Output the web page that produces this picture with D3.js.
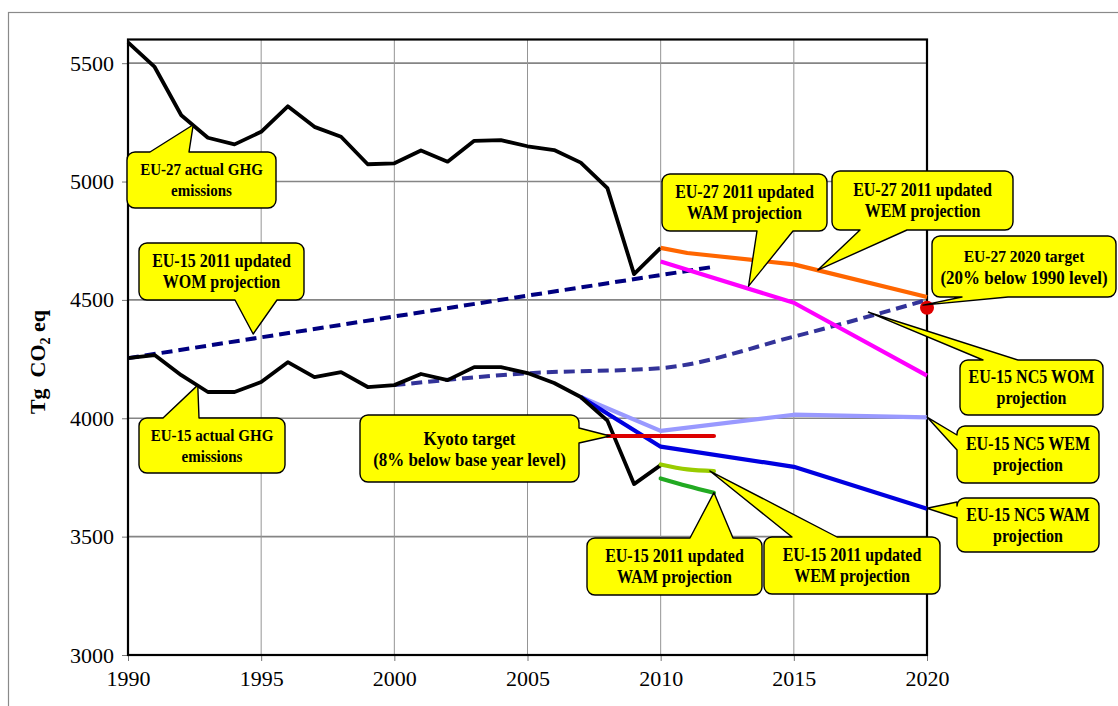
<!DOCTYPE html>
<html><head><meta charset="utf-8">
<script src="https://cdn.jsdelivr.net/npm/d3@7"></script>
<style>
html,body{margin:0;padding:0;background:#fff;}
svg{display:block;}
svg text{font-family:"Liberation Serif","Times New Roman",serif !important;}
</style></head>
<body>
<svg id="chart" width="1118" height="706"></svg>
<script>
// ---------- data ----------
const actualYears = [1990,1991,1992,1993,1994,1995,1996,1997,1998,1999,2000,2001,2002,2003,2004,2005,2006,2007,2008,2009,2010];
const eu27Actual = [5588,5484,5280,5185,5157,5210,5318,5231,5189,5073,5077,5131,5084,5172,5175,5149,5133,5080,4972,4609,4720];
const eu15Actual = [4254,4267,4182,4111,4111,4153,4237,4174,4195,4132,4140,4187,4161,4216,4216,4191,4149,4090,3990,3722,3802];

const eu15WomYears = [1990,1995,2000,2005,2010,2012];
const eu15Wom2011 = [4254,4342,4430,4518,4605,4640];

const nc5WomYears = [2000,2005,2010,2015,2020];
const eu15Nc5Wom = [4140,4190,4212,4345,4500];

const eu27WemYears = [2010,2011,2015,2020];
const eu27Wem2011 = [4720,4698,4650,4512];

const eu27WamYears = [2010,2015,2020];
const eu27Wam2011 = [4662,4488,4180];

const nc5Years = [2007,2010,2015,2020];
const eu15Nc5Wem = [4090,3947,4015,4004];
const eu15Nc5Wam = [4090,3880,3795,3618];

const kyotoYears = [2008,2012];
const kyotoTarget = [3925,3925];

const eu15UpdYears = [2010,2011,2012];
const eu15Wem2011 = [3805,3784,3777];
const eu15Wam2011 = [3746,3714,3685];

const targetYear = [2020];
const eu27Target2020 = [4467];

const xTicks = [1990,1995,2000,2005,2010,2015,2020];
const yTicks = [3000,3500,4000,4500,5000,5500];
const yTitle = ["Tg  CO", "2", " eq"];

// ---------- layout ----------
const FONT = "'Liberation Serif','Times New Roman',serif";
const svg = d3.select("#chart");
const x = d3.scaleLinear().domain([1990,2020]).range([128,927]);
const y = d3.scaleLinear().domain([3000,5600]).range([655,39.5]);

// outer frame
svg.append("rect").attr("x",8.5).attr("y",12.5).attr("width",1130).attr("height",720)
  .attr("fill","none").attr("stroke","#8a8a8a").attr("stroke-width",1.2);

// gridlines
svg.append("g").selectAll("line").data(yTicks.filter(v=>v>3000)).join("line")
  .attr("x1",x(1990)).attr("x2",x(2020)).attr("y1",d=>y(d)).attr("y2",d=>y(d))
  .attr("stroke","#858585").attr("stroke-width",1.6);
svg.append("g").selectAll("line").data(xTicks.filter(v=>v>1990&&v<2020)).join("line")
  .attr("y1",y(3000)).attr("y2",y(5600)).attr("x1",d=>x(d)).attr("x2",d=>x(d))
  .attr("stroke","#959595").attr("stroke-width",1);

// axes
const yAxis = d3.axisLeft(y).tickValues(yTicks).tickSize(6).tickPadding(8).tickFormat(d3.format("d"));
const gy = svg.append("g").attr("transform",`translate(${x(1990)},0)`).call(yAxis)
  .attr("font-family",FONT).attr("font-size",22);
gy.select(".domain").remove();
gy.selectAll(".tick line").attr("stroke","#777");
gy.selectAll(".tick text").style("font-size","22px").style("font-family",FONT).attr("fill","#000");

const xAxis = d3.axisBottom(x).tickValues(xTicks).tickSize(6).tickPadding(9).tickFormat(d3.format("d"));
const gx = svg.append("g").attr("transform",`translate(0,${y(3000)})`).call(xAxis)
  .attr("font-family",FONT).attr("font-size",22);
gx.select(".domain").remove();
gx.selectAll(".tick line").attr("stroke","#777");
gx.selectAll(".tick text").style("font-size","22px").style("font-family",FONT).attr("fill","#000");

// plot frame
svg.append("rect").attr("x",x(1990)).attr("y",y(5600)).attr("width",x(2020)-x(1990)).attr("height",y(3000)-y(5600))
  .attr("fill","none").attr("stroke","#000").attr("stroke-width",2.2);

// y title
const yt = svg.append("text").attr("transform","translate(45,362) rotate(-90)")
  .attr("text-anchor","middle").style("font-size","22px").attr("font-weight","bold")
  .style("white-space","pre");
yt.append("tspan").text(yTitle[0]);
yt.append("tspan").text(yTitle[1]).style("font-size","14px").attr("dy",5);
yt.append("tspan").text(yTitle[2]).attr("dy",-5);

// ---------- series ----------
function draw(xs, vs, color, width, opts={}) {
  const line = d3.line().x((d,i)=>x(xs[i])).y(d=>y(d)).curve(opts.curve||d3.curveLinear);
  svg.append("path").datum(vs).attr("d",line).attr("fill","none")
    .attr("stroke",color).attr("stroke-width",width)
    .attr("stroke-linejoin","round").attr("stroke-linecap",opts.cap||"butt")
    .attr("stroke-dasharray",opts.dash||null);
}
draw(nc5WomYears, eu15Nc5Wom, "#333399", 4, {dash:"11,6", curve:d3.curveMonotoneX});
draw(eu15WomYears, eu15Wom2011, "#000080", 4, {dash:"11,6"});
draw(nc5Years, eu15Nc5Wem, "#9999FF", 4.2);
draw(nc5Years, eu15Nc5Wam, "#0000E0", 4.2);
draw(actualYears, eu27Actual, "#000", 3.8);
draw(actualYears, eu15Actual, "#000", 3.8);
draw(kyotoYears, kyotoTarget, "#DD0000", 4.2, {cap:"round"});
draw(eu27WemYears, eu27Wem2011, "#FF6600", 4.2);
draw(eu27WamYears, eu27Wam2011, "#FF00FF", 4.2);
draw(eu15UpdYears, eu15Wem2011, "#99CC00", 4.2, {curve:d3.curveMonotoneX, cap:"round"});
draw(eu15UpdYears, eu15Wam2011, "#22AA22", 4.2, {curve:d3.curveMonotoneX, cap:"round"});

svg.append("g").selectAll("circle").data(eu27Target2020).join("circle")
  .attr("cx",(d,i)=>x(targetYear[i])).attr("cy",d=>y(d)).attr("r",7).attr("fill","#E00000");

// ---------- callouts ----------
// box: [left, top, right, bottom] px; side of wedge; wedge base a..b along side; tip in data units
const callouts = [
  {lines:["EU-27 actual GHG","emissions"], fs:[15.5,15.5], box:[127,152,276,208], side:"top", base:[150,189], tip:[1992.45,5240]},
  {lines:["EU-15 2011 updated","WOM projection"], fs:[16.5,16.5], box:[139,243,304,300], side:"bottom", base:[235,277], tip:[1994.7,4356]},
  {lines:["EU-15 actual GHG","emissions"], fs:[15.5,15.5], box:[139,418,285,473], side:"top", base:[163,199], tip:[1992.62,4140]},
  {lines:["Kyoto target","(8% below base year level)"], fs:[17.5,17.5], box:[360,415,579,482], side:"right", base:[428,443], tip:[2008.1,3925]},
  {lines:["EU-27 2011 updated","WAM projection"], fs:[16.5,16.5], box:[662,174,827,231], side:"bottom", base:[757,793], tip:[2013.3,4558]},
  {lines:["EU-27 2011 updated","WEM projection"], fs:[16.5,16.5], box:[832,171,1013,230], side:"bottom", base:[860,907], tip:[2015.9,4626]},
  {lines:["EU-27 2020 target","(20% below 1990 level)"], fs:[16,17.5], box:[932,236,1116,297], side:"bottom", base:[962,1008], tip:[2019.85,4478]},
  {lines:["EU-15 NC5 WOM","projection"], fs:[16.5,16.5], box:[960,360,1103,415], side:"top", base:[983,1018], tip:[2017.8,4448]},
  {lines:["EU-15 NC5 WEM","projection"], fs:[16.5,16.5], box:[957,426,1099,483], side:"left", base:[435,450], tip:[2020,4005]},
  {lines:["EU-15 NC5 WAM","projection"], fs:[16.5,16.5], box:[957,498,1099,552], side:"left", base:[502,518], tip:[2020,3620]},
  {lines:["EU-15 2011 updated","WAM projection"], fs:[16.5,16.5], box:[587,538,762,595], side:"top", base:[690,733], tip:[2012,3686]},
  {lines:["EU-15 2011 updated","WEM projection"], fs:[16.5,16.5], box:[764,537,940,594], side:"top", base:[792,837], tip:[2011.85,3777]}
];

function calloutPath(c){
  const [x0,y0,x1,y1] = c.box, r = 8, [a,b] = c.base;
  const tx = x(c.tip[0]), ty = y(c.tip[1]);
  const p = d3.path();
  p.moveTo(x0+r,y0);
  if(c.side==="top"){ p.lineTo(a,y0); p.lineTo(tx,ty); p.lineTo(b,y0); }
  p.lineTo(x1-r,y0); p.arcTo(x1,y0,x1,y0+r,r);
  if(c.side==="right"){ p.lineTo(x1,a); p.lineTo(tx,ty); p.lineTo(x1,b); }
  p.lineTo(x1,y1-r); p.arcTo(x1,y1,x1-r,y1,r);
  if(c.side==="bottom"){ p.lineTo(b,y1); p.lineTo(tx,ty); p.lineTo(a,y1); }
  p.lineTo(x0+r,y1); p.arcTo(x0,y1,x0,y1-r,r);
  if(c.side==="left"){ p.lineTo(x0,b); p.lineTo(tx,ty); p.lineTo(x0,a); }
  p.lineTo(x0,y0+r); p.arcTo(x0,y0,x0+r,y0,r);
  p.closePath();
  return p.toString();
}

const cg = svg.append("g").selectAll("g").data(callouts).join("g");
cg.append("path").attr("d",calloutPath).attr("fill","#FFFF00")
  .attr("stroke","#000").attr("stroke-width",1.4).attr("stroke-linejoin","round");
cg.each(function(c){
  const g = d3.select(this);
  const cx = (c.box[0]+c.box[2])/2, cy = (c.box[1]+c.box[3])/2;
  const lh = 21;
  c.lines.forEach((t,i)=>{
    const ty = cy + (i-(c.lines.length-1)/2)*lh;
    g.append("text").attr("transform",`translate(${cx},${ty}) scale(0.97,1.1)`)
      .attr("dy","0.35em").attr("text-anchor","middle")
      .style("font-size",c.fs[i]+"px").attr("font-weight","bold").attr("fill","#000").text(t);
  });
});
</script>
</body></html>
